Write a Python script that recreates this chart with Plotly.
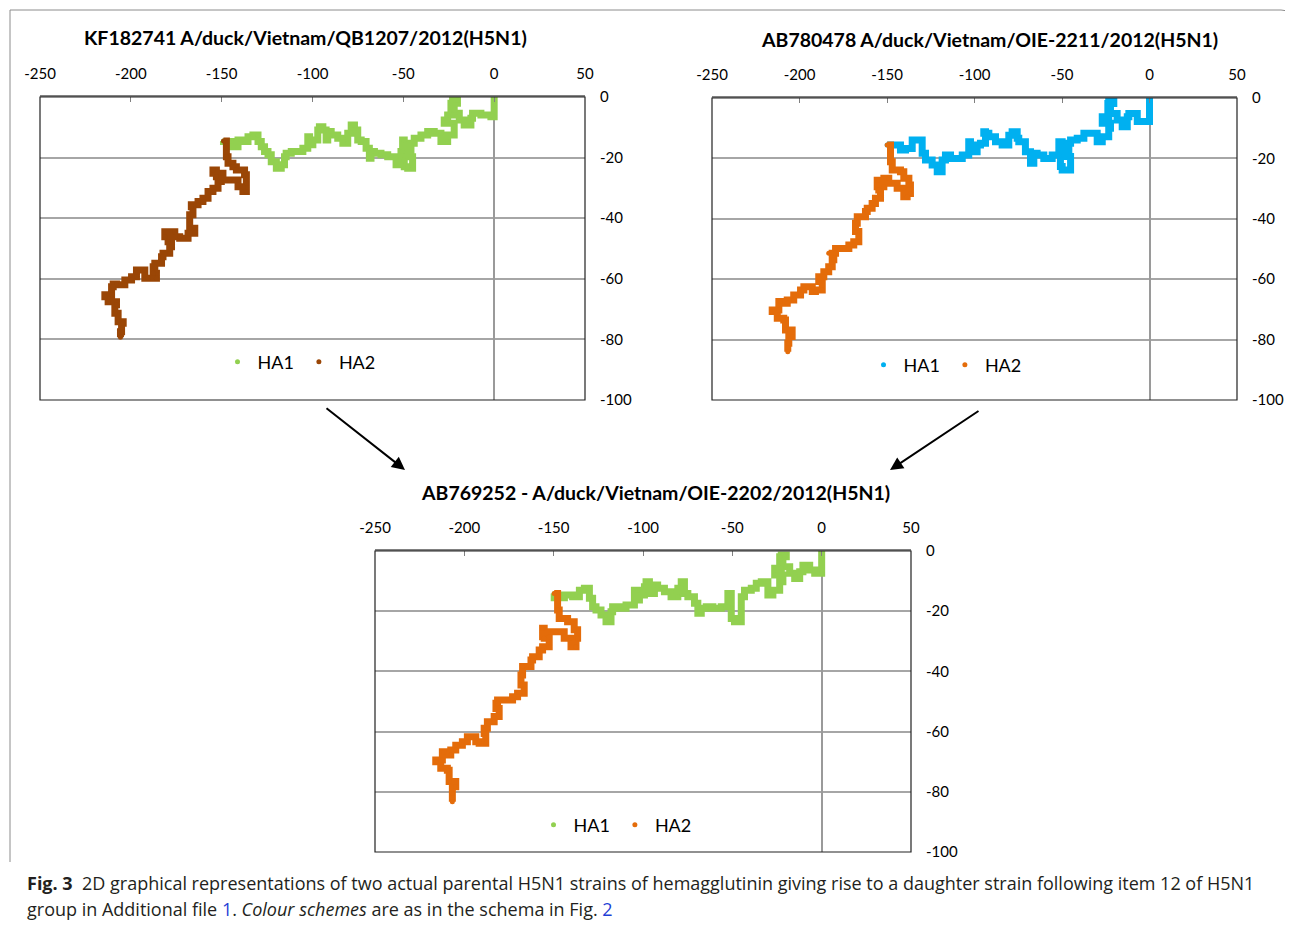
import plotly.graph_objects as go

# ---------------- data ----------------
TITLES = [
    "KF182741 A/duck/Vietnam/QB1207/2012(H5N1)",
    "AB780478 A/duck/Vietnam/OIE-2211/2012(H5N1)",
    "AB769252 - A/duck/Vietnam/OIE-2202/2012(H5N1)",
]
SERIES = ["HA1", "HA2"]
X_TICKS = [-250, -200, -150, -100, -50, 0, 50]
Y_TICKS = [0, -20, -40, -60, -80, -100]

P1_HA1 = [(0, 0), (0, -6.5), (-1.8, -5.9), (-7.3, -5.4), (-11.9, -7.0), (-12.8, -9.2), (-16.5, -7.6),
          (-19.2, -5.4), (-22.0, -4.3), (-23.8, -2.1), (-20.2, -1.0), (-22.9, -5.9), (-25.6, -7.6),
          (-27.5, -8.7), (-22.0, -9.8), (-22.0, -12.5), (-25.6, -14.7), (-29.3, -12.0), (-33.0, -11.4),
          (-36.6, -12.5), (-40.3, -13.6), (-44.0, -15.3), (-45.8, -19.7), (-44.9, -23.5), (-47.6, -23.0),
          (-49.5, -20.8), (-49.5, -14.2), (-50.4, -18.0), (-51.3, -22.4), (-54.0, -19.7), (-58.6, -19.1),
          (-62.3, -18.6), (-65.9, -18.0), (-67.8, -20.2), (-68.7, -16.9), (-70.5, -14.7), (-73.2, -14.2),
          (-75.1, -10.9), (-76.9, -9.2), (-78.7, -12.0), (-80.6, -15.3), (-83.3, -13.6), (-86.1, -12.5),
          (-89.7, -11.4), (-91.6, -14.2), (-92.5, -10.9), (-94.3, -9.8), (-96.2, -10.9), (-97.1, -14.2),
          (-99.8, -15.8), (-101.6, -13.1), (-102.6, -16.9), (-105.3, -18.0), (-109.0, -18.0),
          (-111.7, -18.6), (-114.5, -19.7), (-115.4, -22.4), (-117.2, -23.5), (-119.9, -21.4),
          (-122.7, -19.1), (-124.5, -18.0), (-126.4, -16.4), (-128.2, -14.7), (-130.0, -12.5),
          (-132.8, -13.1), (-135.5, -14.7), (-139.2, -14.2), (-141.0, -16.4), (-144.7, -14.7), (-149.0, -14.5)]
P1_HA2 = [(-149.0, -14.5), (-147.4, -19.7), (-146.5, -21.9), (-143.8, -23.0), (-141.9, -24.1),
          (-137.4, -25.7), (-136.4, -28.5), (-136.4, -31.2), (-138.3, -29.6), (-141.0, -27.4),
          (-145.6, -27.4), (-149.3, -25.2), (-154.8, -24.1), (-152.9, -26.3), (-150.2, -27.9),
          (-152.0, -30.1), (-154.8, -31.2), (-157.5, -33.4), (-160.3, -34.5), (-163.0, -35.6),
          (-166.7, -36.2), (-165.8, -38.9), (-167.6, -40.6), (-167.6, -43.3), (-164.8, -45.0),
          (-168.5, -46.6), (-173.1, -46.1), (-175.8, -44.5), (-181.3, -46.1), (-179.5, -47.8),
          (-177.6, -49.4), (-178.6, -51.6), (-182.3, -52.7), (-183.1, -54.9), (-186.8, -56.0),
          (-187.7, -58.2), (-185.9, -59.8), (-190.5, -59.8), (-192.3, -57.1), (-196.9, -59.3),
          (-199.6, -60.4), (-203.3, -62.0), (-207.9, -61.7), (-209.7, -62.6), (-210.6, -65.3),
          (-214.3, -65.9), (-212.5, -67.6), (-207.9, -68.6), (-208.8, -71.4), (-207.0, -74.2),
          (-204.2, -74.7), (-205.1, -77.5), (-205.7, -79.3)]

P2_HA1 = [(0, 0), (0, -7.8), (-5.1, -7.8), (-7.0, -5.1), (-11.8, -6.2), (-12.7, -9.5), (-15.6, -7.3),
          (-18.5, -5.1), (-22.3, -4.0), (-23.8, -1.8), (-20.4, -1.2), (-23.3, -6.2), (-27.0, -8.4),
          (-22.3, -10.0), (-23.3, -12.8), (-27.0, -14.5), (-29.9, -11.7), (-33.7, -11.7), (-37.5, -13.3),
          (-41.3, -13.9), (-45.1, -15.0), (-46.1, -19.4), (-45.1, -23.8), (-49.9, -22.7), (-50.9, -19.4),
          (-49.9, -14.5), (-51.8, -18.9), (-55.6, -20.0), (-60.4, -18.9), (-64.2, -18.3), (-66.1, -21.6),
          (-68.0, -17.8), (-70.9, -14.5), (-74.7, -13.3), (-75.6, -11.2), (-78.5, -12.3), (-80.4, -15.6),
          (-84.2, -14.5), (-88.0, -12.8), (-91.8, -11.7), (-94.7, -11.2), (-93.7, -15.0), (-96.6, -15.6),
          (-98.5, -17.8), (-102.3, -14.5), (-103.3, -18.9), (-107.0, -20.0), (-110.9, -20.0),
          (-113.7, -18.9), (-116.6, -20.5), (-118.5, -24.4), (-121.3, -22.2), (-124.2, -20.5),
          (-128.0, -18.3), (-129.9, -13.9), (-132.7, -13.9), (-135.6, -16.7), (-139.4, -17.2),
          (-142.3, -15.6), (-146.1, -15.6), (-149.9, -15.6)]
P2_HA2 = [(-149.9, -15.6), (-148.0, -21.1), (-147.0, -23.8), (-142.3, -24.4), (-140.4, -26.6),
          (-137.5, -28.8), (-136.6, -31.6), (-138.5, -32.7), (-140.4, -29.9), (-144.2, -28.2),
          (-149.0, -26.6), (-151.8, -29.4), (-155.6, -27.2), (-154.7, -30.5), (-153.7, -33.2),
          (-156.6, -34.9), (-158.5, -36.5), (-161.3, -37.6), (-162.3, -39.3), (-166.1, -39.3),
          (-167.0, -41.5), (-168.0, -44.2), (-166.1, -47.6), (-169.0, -48.7), (-171.8, -49.8),
          (-176.6, -49.8), (-179.4, -51.4), (-183.3, -51.4), (-180.4, -53.6), (-181.3, -55.9),
          (-183.3, -57.5), (-186.1, -59.2), (-189.0, -60.8), (-187.0, -63.6), (-190.9, -64.1),
          (-192.7, -62.5), (-197.5, -63.6), (-199.4, -65.2), (-203.3, -66.9), (-207.0, -68.0),
          (-210.9, -67.4), (-211.8, -70.2), (-215.6, -70.7), (-212.7, -72.9), (-209.0, -73.5),
          (-208.0, -76.8), (-204.2, -79.0), (-206.1, -81.2), (-206.7, -84.0)]

P3_HA1 = [(0, 0), (0, -7.4), (-3.9, -6.3), (-6.7, -4.7), (-10.5, -6.9), (-12.3, -9.1), (-15.1, -7.4),
          (-17.9, -5.2), (-21.7, -4.1), (-23.5, -1.9), (-19.8, -1.3), (-22.6, -5.7), (-26.3, -8.0),
          (-21.7, -10.2), (-23.5, -13.0), (-27.3, -14.6), (-30.1, -10.2), (-33.8, -10.7), (-36.6, -12.4),
          (-39.4, -13.0), (-43.2, -15.2), (-45.0, -18.5), (-45.0, -23.5), (-48.8, -22.4), (-50.6, -19.0),
          (-50.6, -14.1), (-52.5, -18.5), (-56.2, -19.0), (-60.9, -18.5), (-64.6, -19.0), (-67.4, -20.7),
          (-69.3, -17.4), (-71.2, -15.2), (-74.9, -14.1), (-76.8, -10.2), (-78.6, -12.4), (-80.5, -15.2),
          (-84.3, -13.5), (-88.0, -12.4), (-91.8, -11.3), (-93.6, -14.1), (-96.4, -10.2), (-98.3, -11.9),
          (-99.2, -14.6), (-102.0, -16.3), (-103.0, -13.0), (-104.8, -17.9), (-109.5, -19.0),
          (-113.2, -18.5), (-117.0, -20.2), (-117.9, -23.5), (-120.7, -21.3), (-123.5, -19.6),
          (-126.3, -18.5), (-128.2, -15.7), (-130.0, -12.4), (-132.8, -13.0), (-135.6, -15.2),
          (-139.4, -14.6), (-144.0, -15.5), (-149.7, -14.1)]
P3_HA2 = [(-149.7, -14.1), (-147.8, -19.6), (-146.9, -22.4), (-142.2, -23.5), (-138.5, -26.2),
          (-136.6, -29.0), (-137.5, -31.8), (-140.3, -29.0), (-144.1, -26.8), (-148.7, -26.8),
          (-152.5, -28.5), (-156.2, -25.7), (-155.3, -29.0), (-152.5, -31.8), (-156.2, -32.9),
          (-158.1, -35.1), (-161.8, -36.2), (-162.7, -38.4), (-167.4, -38.4), (-167.4, -41.2),
          (-168.3, -44.5), (-166.5, -47.3), (-170.2, -48.4), (-173.0, -49.5), (-177.7, -49.5),
          (-181.4, -50.6), (-182.3, -52.3), (-180.5, -55.0), (-183.3, -56.7), (-187.1, -58.9),
          (-188.9, -60.6), (-188.0, -63.9), (-191.7, -63.4), (-193.6, -61.7), (-198.3, -63.4),
          (-201.1, -64.5), (-204.8, -66.1), (-207.6, -67.8), (-211.3, -66.7), (-212.3, -69.4),
          (-216.0, -70.0), (-213.2, -72.2), (-209.5, -72.8), (-208.5, -76.6), (-204.8, -78.3),
          (-206.7, -80.5), (-206.7, -83.3)]

# ---------------- styling / layout ----------------
OFF = 8                      # page body margin of the html page
W, H = 1293 - OFF, 925 - OFF
GREEN, BROWN, ORANGE, BLUE = "#92d050", "#9a4606", "#e46c0a", "#00b0f0"
FONT = "Lato, 'Open Sans', sans-serif"


def px(xp):
    return (xp - OFF) / W


def py(yp):
    return 1 - (yp - OFF) / H


# panel boxes in window pixels: (left, right, top, bottom)
PANELS = [
    dict(box=(40, 585, 97, 400), data=(P1_HA1, P1_HA2), colors=(GREEN, BROWN),
         title_xy=(305, 37), legend_xy=(299, 362)),
    dict(box=(712, 1237, 98, 400), data=(P2_HA1, P2_HA2), colors=(BLUE, ORANGE),
         title_xy=(990, 40), legend_xy=(945, 365)),
    dict(box=(375, 911, 551, 852), data=(P3_HA1, P3_HA2), colors=(GREEN, ORANGE),
         title_xy=(655, 492), legend_xy=(615, 825)),
]

fig = go.Figure()
layout = dict(
    width=W, height=H, margin=dict(l=0, r=0, t=0, b=0, pad=0, autoexpand=False),
    paper_bgcolor="white", plot_bgcolor="white",
    font=dict(family=FONT, color="black"),
    shapes=[], annotations=[],
)

for i, pan in enumerate(PANELS, start=1):
    xa = "x" if i == 1 else f"x{i}"
    ya = "y" if i == 1 else f"y{i}"
    lg = "legend" if i == 1 else f"legend{i}"
    l, r, t, b = pan["box"]
    for name, pts, col in zip(SERIES, pan["data"], pan["colors"]):
        xs = [p[0] for p in pts]
        ys = [p[1] for p in pts]
        fig.add_trace(go.Scatter(x=xs, y=ys, mode="lines", line=dict(color=col, width=7, shape="hv"),
                                 xaxis=xa, yaxis=ya, showlegend=False, hoverinfo="skip"))
        fig.add_trace(go.Scatter(x=xs, y=ys, mode="markers", name=name,
                                 marker=dict(color=col, size=5), xaxis=xa, yaxis=ya, legend=lg))
    xkey = "xaxis" if i == 1 else f"xaxis{i}"
    ykey = "yaxis" if i == 1 else f"yaxis{i}"
    layout[xkey] = dict(
        domain=[px(l), px(r)], anchor=ya, range=[-250, 50], side="top",
        tickvals=X_TICKS, ticktext=[str(v) for v in X_TICKS], ticks="inside", ticklen=5,
        tickcolor="#808080", showline=True, linecolor="#808080", linewidth=1.5,
        zeroline=True, zerolinecolor="#9a9a9a", zerolinewidth=1.5, showgrid=False,
        tickfont=dict(size=15, family=FONT), ticklabelstandoff=10, fixedrange=True,
    )
    layout[ykey] = dict(
        domain=[py(b), py(t)], anchor=xa, range=[-100, 0], side="right",
        tickvals=Y_TICKS, ticktext=[str(v) for v in Y_TICKS], ticks="",
        showgrid=True, gridcolor="#a6a6a6", gridwidth=1.5, zeroline=False, showline=False,
        tickfont=dict(size=15, family=FONT), ticklabelstandoff=14, fixedrange=True,
    )
    layout[lg] = dict(
        x=px(pan["legend_xy"][0]), y=py(pan["legend_xy"][1]), xanchor="center", yanchor="middle",
        orientation="h", bgcolor="rgba(0,0,0,0)", font=dict(size=18, family=FONT),
        itemwidth=30, tracegroupgap=0,
    )
    layout["shapes"].append(dict(type="rect", xref=f"{xa} domain", yref=f"{ya} domain",
                                 x0=0, x1=1, y0=0, y1=1, line=dict(color="#222222", width=1.2),
                                 layer="above"))
    layout["annotations"].append(dict(
        text=f"<b>{TITLES[i - 1]}</b>", xref="paper", yref="paper",
        x=px(pan["title_xy"][0]), y=py(pan["title_xy"][1]), xanchor="center", yanchor="middle",
        showarrow=False, font=dict(size=19.5, family=FONT, color="black")))

# arrows from the parents to the daughter strain
for (hx, hy, tx, ty) in [(405, 470, 325, 407), (890, 470, 980, 410)]:
    layout["annotations"].append(dict(
        text="", xref="paper", yref="paper", x=px(hx), y=py(hy), ax=tx - hx, ay=ty - hy,
        showarrow=True, arrowhead=2, arrowsize=1.3, arrowwidth=2, arrowcolor="black"))

# outer frame (top and left border with rounded corner)
layout["shapes"].append(dict(
    type="path", xref="paper", yref="paper",
    path=(f"M {px(10)} {py(862)} L {px(10)} {py(10)} L {px(1281)} {py(10)} "
          f"Q {px(1291)} {py(10)} {px(1291)} {py(20)}"),
    line=dict(color="#8c8c8c", width=1)))

CAP1 = ("<b>Fig. 3</b>  2D graphical representations of two actual parental H5N1 strains of hemagglutinin "
        "giving rise to a daughter strain following item 12 of H5N1")
CAP2 = ("group in Additional file <span style='color:#1f3fd6'>1</span>. <i>Colour schemes</i> are as in "
        "the schema in Fig. <span style='color:#1f3fd6'>2</span>")
for txt, yp in [(CAP1, 883), (CAP2, 909)]:
    layout["annotations"].append(dict(
        text=txt, xref="paper", yref="paper", x=px(25), y=py(yp), xanchor="left", yanchor="middle",
        showarrow=False, font=dict(size=18, family="'Open Sans', sans-serif", color="#231f20")))

fig.update_layout(**layout)
fig.write_html("out.html")
